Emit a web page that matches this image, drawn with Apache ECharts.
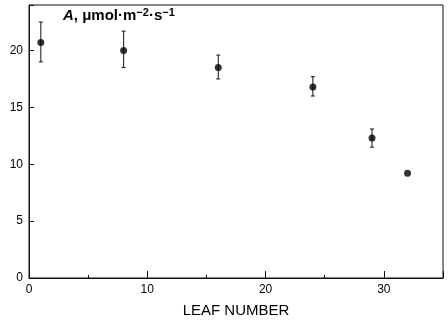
<!DOCTYPE html>
<html>
<head>
<meta charset="utf-8">
<script src="https://cdn.jsdelivr.net/npm/echarts@6/dist/echarts.min.js"></script>
<style>
  html, body { margin: 0; padding: 0; background: #fff; }
  #main { width: 448px; height: 323px; }
</style>
</head>
<body>
<div id="main"></div>
<script>
// leaf position vs net photosynthesis rate
var leafNumber = [1, 8, 16, 24, 29, 32];
var rateA = [20.7, 20.0, 18.5, 16.8, 12.3, 9.2];
var errLow = [19.0, 18.5, 17.5, 16.0, 11.5, null];
var errHigh = [22.5, 21.7, 19.6, 17.7, 13.1, null];
var yTicks = [0, 5, 10, 15, 20];
var xLabelTicks = [0, 10, 20, 30];

var myChart = echarts.init(document.getElementById('main'));

var points = [], bars = [];
for (var i = 0; i < leafNumber.length; i++) {
    points.push([leafNumber[i], rateA[i]]);
    if (errLow[i] != null) bars.push([leafNumber[i], errLow[i], errHigh[i]]);
}

var font = 'Liberation Sans, Arial, sans-serif';

var option = {
    animation: false,
    grid: { left: 29, right: 5, top: 5, bottom: 45 },
    xAxis: [
        {
            type: 'value', min: 0, max: 35, interval: 5,
            axisLine: { lineStyle: { color: '#111', width: 1 } },
            axisTick: { inside: true, length: 3, lineStyle: { color: '#111' } },
            axisLabel: {
                color: '#000', fontSize: 12, fontFamily: font, margin: 6,
                formatter: function (v) { return xLabelTicks.indexOf(v) >= 0 ? v : ''; }
            },
            splitLine: { show: false },
            name: 'LEAF NUMBER', nameLocation: 'middle', nameGap: 25,
            nameTextStyle: { color: '#000', fontSize: 15, fontFamily: font }
        },
        {
            type: 'value', min: 0, max: 35, interval: 10, position: 'bottom',
            gridIndex: 0,
            axisLine: { show: false },
            axisTick: { inside: true, length: 7, lineStyle: { color: '#111' } },
            axisLabel: { show: false },
            splitLine: { show: false }
        }
    ],
    yAxis: {
        type: 'value', min: 0, max: 24, interval: 5,
        axisLine: { show: true, lineStyle: { color: '#111', width: 1 } },
        axisTick: { show: true, inside: true, length: 5, lineStyle: { color: '#111' } },
        axisLabel: {
            color: '#000', fontSize: 12, fontFamily: font, margin: 6,
            formatter: function (v) { return yTicks.indexOf(v) >= 0 ? v : ''; }
        },
        splitLine: { show: false }
    },
    graphic: [
        {
            type: 'rect', z: 0,
            shape: { x: 29, y: 5, width: 414, height: 273 },
            style: { fill: 'none', stroke: '#111', lineWidth: 1 }
        },
        {
            type: 'text', left: 63, top: 7,
            style: {
                rich: {
                    a: { fontStyle: 'italic', fontWeight: 'bold', fontSize: 15, fontFamily: font, fill: '#000' },
                    t: { fontWeight: 'bold', fontSize: 15, fontFamily: font, fill: '#000' },
                    s: { fontWeight: 'bold', fontSize: 11, fontFamily: font, fill: '#000', verticalAlign: 'top', padding: [0, 0, 6, 0] }
                },
                text: '{a|A}{t|, μmol·m}{s|−2}{t|·s}{s|−1}'
            }
        }
    ],
    series: [
        {
            type: 'custom',
            xAxisIndex: 0,
            data: bars,
            renderItem: function (params, api) {
                var top = api.coord([api.value(0), api.value(2)]);
                var bot = api.coord([api.value(0), api.value(1)]);
                var style = { stroke: '#111', lineWidth: 1 };
                return {
                    type: 'group',
                    children: [
                        { type: 'line', shape: { x1: top[0], y1: top[1], x2: bot[0], y2: bot[1] }, style: style },
                        { type: 'line', shape: { x1: top[0] - 2, y1: top[1], x2: top[0] + 2, y2: top[1] }, style: style },
                        { type: 'line', shape: { x1: bot[0] - 2, y1: bot[1], x2: bot[0] + 2, y2: bot[1] }, style: style }
                    ]
                };
            }
        },
        {
            type: 'scatter',
            xAxisIndex: 0,
            data: points,
            symbol: 'circle',
            symbolSize: 7,
            itemStyle: { color: '#000' },
            z: 5
        }
    ]
};

myChart.setOption(option);
</script>
</body>
</html>
